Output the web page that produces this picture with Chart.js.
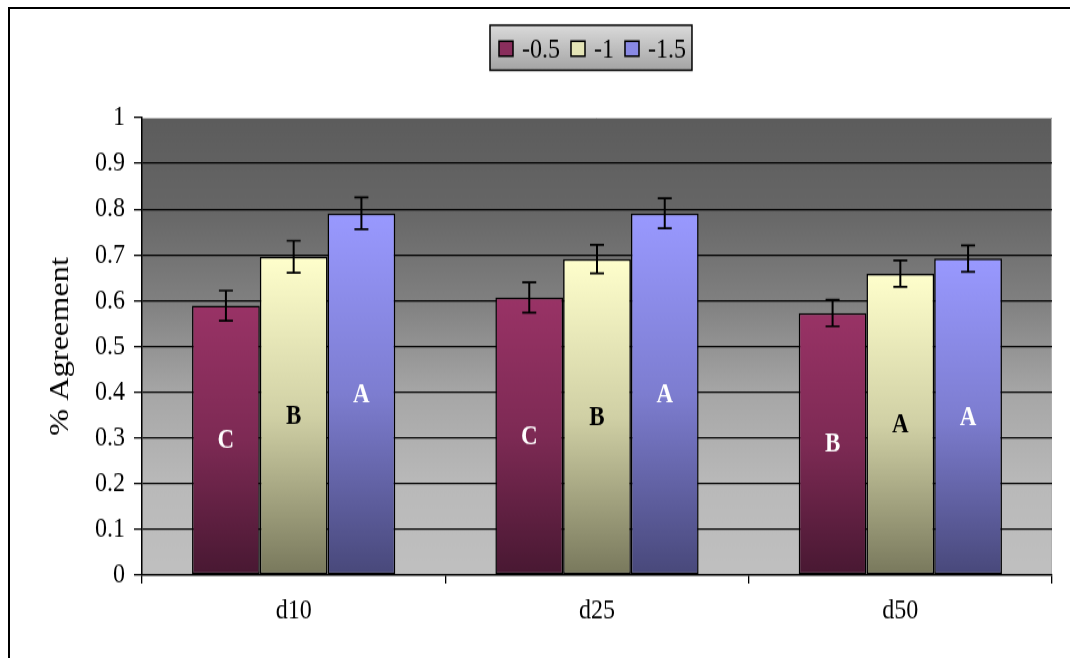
<!DOCTYPE html>
<html>
<head>
<meta charset="utf-8">
<script src="https://cdn.jsdelivr.net/npm/chart.js@4/dist/chart.umd.min.js"></script>
<style>
  html, body { margin: 0; padding: 0; background: #ffffff; }
  #wrap { position: relative; width: 1070px; height: 658px; overflow: hidden; }
  #frame { position: absolute; left: 8px; top: 7px; width: 1100px; height: 700px;
           border-left: 2px solid #000; border-top: 2px solid #000; }
  #chart { position: absolute; left: 0; top: 0; }
</style>
</head>
<body>
<div id="wrap">
  <div id="frame"></div>
  <canvas id="chart" width="1070" height="548" style="width:1070px;height:658px;"></canvas>
</div>
<script>
// Categories and series
const categories = ['d10', 'd25', 'd50'];
const seriesLabels = ['-0.5', '-1', '-1.5'];

// Mean agreement per category
const valsNeg05 = [0.589, 0.607, 0.573];
const valsNeg1 = [0.696, 0.691, 0.659];
const valsNeg15 = [0.791, 0.791, 0.692];

// Error bar half-widths
const errNeg05 = [0.033, 0.033, 0.029];
const errNeg1 = [0.035, 0.031, 0.029];
const errNeg15 = [0.035, 0.033, 0.029];

// Grouping letters shown inside each bar
const lettersNeg05 = ['C', 'C', 'B'];
const lettersNeg1 = ['B', 'B', 'A'];
const lettersNeg15 = ['A', 'A', 'A'];

// Y axis tick labels
const yTickLabels = ['0', '0.1', '0.2', '0.3', '0.4', '0.5', '0.6', '0.7', '0.8', '0.9', '1'];

const FONT = '"Liberation Serif", "Times New Roman", serif';

function mix(a, b, t) {
  return 'rgb(' + a.map((v, i) => Math.round(v + (b[i] - v) * t)).join(',') + ')';
}

// Vertical shading for each bar, light at its top and dark at its base
function barGradient(topRGB, botRGB) {
  return function (ctx) {
    const chart = ctx.chart;
    if (!chart.chartArea || ctx.type !== 'data') return mix(topRGB, botRGB, 0.3);
    const ys = chart.scales.y;
    const top = ys.getPixelForValue(ctx.raw);
    const bot = ys.getPixelForValue(0);
    const g = chart.ctx.createLinearGradient(0, top, 0, bot);
    g.addColorStop(0, mix(topRGB, botRGB, 0));
    g.addColorStop(0.5, mix(topRGB, botRGB, 0.35));
    g.addColorStop(1, mix(topRGB, botRGB, 1));
    return g;
  };
}

const palettes = [
  { top: [153, 51, 102], bot: [72, 24, 50], text: '#ffffff' },
  { top: [255, 255, 204], bot: [120, 120, 92], text: '#000000' },
  { top: [153, 153, 255], bot: [72, 72, 122], text: '#ffffff' }
];
const seriesValues = [valsNeg05, valsNeg1, valsNeg15];
const seriesErrors = [errNeg05, errNeg1, errNeg15];
const seriesLetters = [lettersNeg05, lettersNeg1, lettersNeg15];

const datasets = seriesLabels.map((label, i) => ({
  label: label,
  data: seriesValues[i],
  errors: seriesErrors[i],
  letters: seriesLetters[i],
  letterColor: palettes[i].text,
  legendColor: mix(palettes[i].top, palettes[i].bot, 0.2),
  backgroundColor: barGradient(palettes[i].top, palettes[i].bot),
  borderColor: '#000000',
  borderWidth: 1.5,
  borderSkipped: false,
  categoryPercentage: 0.67,
  barPercentage: 1.0
}));

// Shaded plot background
const plotBackground = {
  id: 'plotBackground',
  beforeDraw(chart) {
    const { ctx, chartArea: a } = chart;
    const g = ctx.createLinearGradient(0, a.top, 0, a.bottom);
    g.addColorStop(0, '#5c5c5c');
    g.addColorStop(0.2, '#666666');
    g.addColorStop(0.4, '#808080');
    g.addColorStop(0.6, '#a6a6a6');
    g.addColorStop(0.8, '#b9b9b9');
    g.addColorStop(1, '#c0c0c0');
    ctx.save();
    ctx.fillStyle = g;
    ctx.fillRect(a.left, a.top, a.right - a.left, a.bottom - a.top);
    ctx.strokeStyle = '#b0b0b0';
    ctx.lineWidth = 1;
    ctx.beginPath();
    ctx.moveTo(a.left, a.top + 0.5);
    ctx.lineTo(a.right - 0.5, a.top + 0.5);
    ctx.lineTo(a.right - 0.5, a.bottom);
    ctx.stroke();
    ctx.restore();
  }
};

// Error bars and grouping letters on each bar
const barDecorations = {
  id: 'barDecorations',
  afterDatasetsDraw(chart) {
    const { ctx } = chart;
    const ys = chart.scales.y;
    chart.data.datasets.forEach((ds, di) => {
      const meta = chart.getDatasetMeta(di);
      meta.data.forEach((bar, idx) => {
        const v = ds.data[idx];
        const e = ds.errors[idx];
        const yHi = ys.getPixelForValue(v + e);
        const yLo = ys.getPixelForValue(v - e);
        ctx.save();
        ctx.strokeStyle = '#000000';
        ctx.lineWidth = 2;
        ctx.beginPath();
        ctx.moveTo(bar.x, yHi);
        ctx.lineTo(bar.x, yLo);
        ctx.stroke();
        ctx.lineWidth = 1.7;
        ctx.beginPath();
        ctx.moveTo(bar.x - 7, yHi);
        ctx.lineTo(bar.x + 7, yHi);
        ctx.moveTo(bar.x - 7, yLo);
        ctx.lineTo(bar.x + 7, yLo);
        ctx.stroke();

        ctx.fillStyle = ds.letterColor;
        ctx.font = 'bold 23px ' + FONT;
        ctx.textAlign = 'center';
        ctx.textBaseline = 'middle';
        ctx.fillText(ds.letters[idx], bar.x, (bar.y + bar.base) / 2 + 1);
        ctx.restore();
      });
    });
  }
};

// Boxed legend above the plot
const boxedLegend = {
  id: 'boxedLegend',
  afterDraw(chart) {
    const { ctx } = chart;
    ctx.save();
    ctx.font = '24px ' + FONT;
    const items = chart.data.datasets;
    const marker = 14, gapText = 9, gapItem = 11;
    let total = 0;
    items.forEach((ds, i) => {
      total += marker + gapText + ctx.measureText(ds.label).width;
      if (i < items.length - 1) total += gapItem;
    });
    const boxLeft = 490, boxTop = 21, boxH = 37.5;
    const boxW = total + 9 + 6;
    const g = ctx.createLinearGradient(0, boxTop, 0, boxTop + boxH);
    g.addColorStop(0, '#dadada');
    g.addColorStop(1, '#a4a4a4');
    ctx.fillStyle = g;
    ctx.fillRect(boxLeft, boxTop, boxW, boxH);
    ctx.strokeStyle = '#000000';
    ctx.lineWidth = 1.5;
    ctx.strokeRect(boxLeft, boxTop, boxW, boxH);

    let x = boxLeft + 9;
    const cy = boxTop + boxH / 2 + 0.5;
    items.forEach((ds) => {
      ctx.fillStyle = ds.legendColor;
      ctx.fillRect(x, cy - 6, marker, 12.5);
      ctx.lineWidth = 1.5;
      ctx.strokeStyle = '#000000';
      ctx.strokeRect(x, cy - 6, marker, 12.5);
      x += marker + gapText;
      ctx.fillStyle = '#000000';
      ctx.textAlign = 'left';
      ctx.textBaseline = 'middle';
      ctx.fillText(ds.label, x, cy + 1);
      x += ctx.measureText(ds.label).width + gapItem;
    });
    ctx.restore();
  }
};

const chart = new Chart(document.getElementById('chart'), {
  type: 'bar',
  data: { labels: categories, datasets: datasets },
  plugins: [plotBackground, barDecorations, boxedLegend],
  options: {
    responsive: false,
    animation: false,
    devicePixelRatio: 1,
    layout: { padding: { top: 98, right: 18, left: 0, bottom: 0 } },
    plugins: {
      legend: { display: false },
      tooltip: { enabled: false }
    },
    scales: {
      x: {
        offset: true,
        grid: {
          display: true,
          drawOnChartArea: false,
          drawTicks: true,
          tickLength: 7,
          color: '#000000',
          tickColor: '#000000',
          lineWidth: 1.3
        },
        border: { display: true, color: '#000000', width: 1.5 },
        ticks: { color: '#000000', font: { family: FONT, size: 24 }, padding: 8 },
        afterFit(scale) { scale.height = 69; }
      },
      y: {
        min: 0,
        max: 1,
        ticks: {
          stepSize: 0.1,
          color: '#000000',
          font: { family: FONT, size: 24 },
          padding: 9,
          callback: (v) => yTickLabels[Math.round(v * 10)]
        },
        grid: {
          color: (c) => (c.tick && (Math.round(c.tick.value * 10) === 0 || Math.round(c.tick.value * 10) === 10)) ? 'rgba(0,0,0,0)' : '#000000',
          tickColor: '#000000',
          tickLength: 8,
          lineWidth: 1.3
        },
        border: { display: true, color: '#000000', width: 1.5 },
        title: {
          display: true,
          text: '% Agreement',
          color: '#000000',
          font: { family: FONT, size: 27 },
          padding: { top: 45, bottom: 0 }
        },
        afterFit(scale) { scale.width = 142; }
      }
    }
  }
});
// Display the drawing stretched to the full page height
chart.canvas.style.width = '1070px';
chart.canvas.style.height = '658px';
</script>
</body>
</html>
